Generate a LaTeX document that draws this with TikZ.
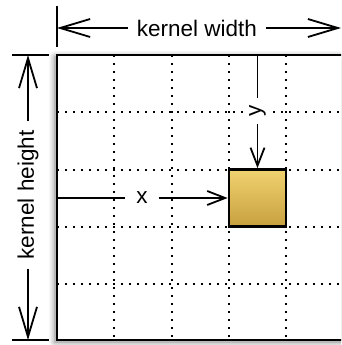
\documentclass[tikz,border=0pt]{standalone}
\usepackage{fontspec}
\setmainfont{Liberation Sans}
\usetikzlibrary{arrows.meta,shadows.blur}

\begin{document}
\begin{tikzpicture}[x=1pt,y=-1pt,
  frameline/.style={line width=2.6pt,line cap=rect},
  gridline/.style={line width=2.1pt,dash pattern=on 2.1pt off 5.9pt,line cap=butt},
  dimline/.style={line width=1.8pt},
  bigtip/.style={-{Straight Barb[length=30pt,width=18pt,line width=1.8pt]}},
  smalltip/.style={-{Straight Barb[length=18pt,width=14pt,line width=1.8pt]}},
  lbl/.style={fill=white,font=\fontsize{22.5}{26}\selectfont,inner xsep=9pt,inner ysep=2pt},
  goldbox/.style={draw=black,line width=2.4pt,minimum size=57.3pt,inner sep=0pt,
    top color={rgb,255:red,240;green,210;blue,112},
    middle color={rgb,255:red,204;green,164;blue,68},
    bottom color={rgb,255:red,200;green,160;blue,62}}
]
\useasboundingbox (0,0) rectangle (341,345);
\clip (0,0) rectangle (341,345);

% kernel area with a soft shadow
\fill[white,blur shadow={shadow xshift=-2pt,shadow yshift=-2pt,shadow blur radius=6pt,shadow opacity=55}]
  (57,55) rectangle (400,340);

% dotted grid
\foreach \i in {1,...,4} {
  \draw[gridline] ({57+57.3*\i},55) -- ({57+57.3*\i},340);
  \draw[gridline] (57,{55+57.3*\i}) -- (345,{55+57.3*\i});
}

% frame
\draw[frameline] (400,55) -- (57,55) -- (57,340) -- (400,340);

% highlighted cell
\node[goldbox] (sq) at (257.5,198) {};

% dimension extension lines
\draw[dimline] (57,6) -- (57,47);
\draw[dimline] (12,55) -- (49,55);
\draw[dimline] (12,340) -- (49,340);

% kernel width
\coordinate (wl) at (57,28);
\coordinate (wr) at (341,28);
\node[lbl] (wlab) at (197,28) {kernel width};
\draw[dimline,bigtip] (wlab) -- (wl);
\draw[dimline,bigtip] (wlab) -- (wr);

% kernel height
\coordinate (ht) at (28,55);
\coordinate (hb) at (28,340);
\node[lbl,rotate=90] (hlab) at (28,195) {kernel height};
\draw[dimline,bigtip] (hlab) -- (ht);
\draw[dimline,bigtip] (hlab) -- (hb);

% x offset
\coordinate (x0) at (57,198);
\node[lbl,inner xsep=11pt,inner ysep=0pt] (xlab) at (142,198) {x};
\draw[dimline] (x0) -- (xlab);
\draw[dimline,smalltip] (xlab) -- (sq.west);

% y offset
\coordinate (y0) at (257.5,55);
\node[lbl,rotate=90,inner xsep=7pt,inner ysep=6pt] (ylab) at (257.5,111) {y};
\draw[dimline] (y0) -- (ylab);
\draw[dimline,smalltip] (ylab) -- (sq.north);
\end{tikzpicture}
\end{document}
